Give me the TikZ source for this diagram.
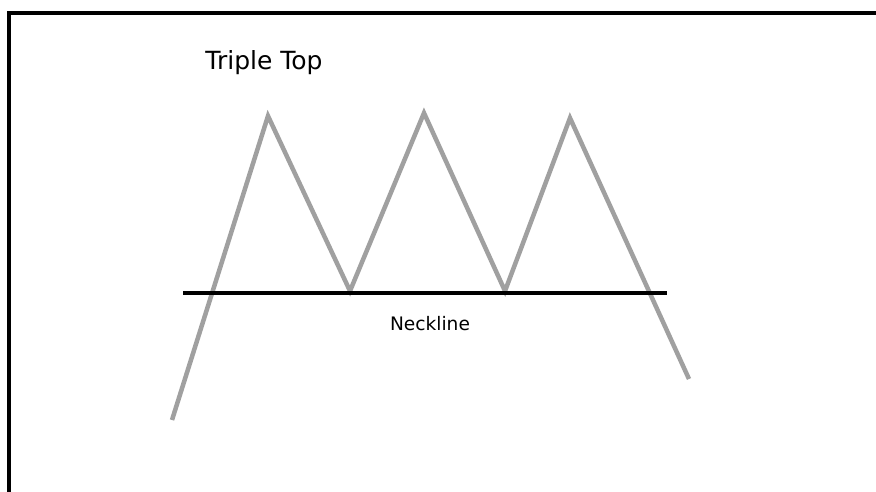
\documentclass[tikz,border=0pt]{standalone}
\usepackage{fontspec}
\setmainfont{DejaVu Sans}
\begin{document}
\begin{tikzpicture}[x=1pt,y=-1pt,
  price/.style={draw={rgb,255:red,160;green,160;blue,160},line width=4.5pt,line join=miter},
  neck/.style={draw=black,line width=3.5pt},
  frame/.style={draw=black,line width=3.5pt}]
\useasboundingbox (0,0) rectangle (876,491);
\fill[white] (0,0) rectangle (876,491);
\draw[frame] (9,500) -- (9,13) -- (880,13);
\coordinate (s) at (172,420);
\coordinate (p1) at (268,116);
\coordinate (t1) at (350,291);
\coordinate (p2) at (424,113);
\coordinate (t2) at (505,291);
\coordinate (p3) at (570,118);
\coordinate (e) at (689,379);
\coordinate (nl) at (183,293);
\coordinate (nr) at (667,293);
\draw[price] (s) -- (p1) -- (t1) -- (p2) -- (t2) -- (p3) -- (e);
\draw[neck] (nl) -- (nr);
\node[font=\fontsize{25}{30}\selectfont] (title) at (264,63) {Triple Top};
\node[font=\fontsize{18.6}{22}\selectfont] (nlabel) at (430,324) {Neckline};
\end{tikzpicture}
\end{document}
